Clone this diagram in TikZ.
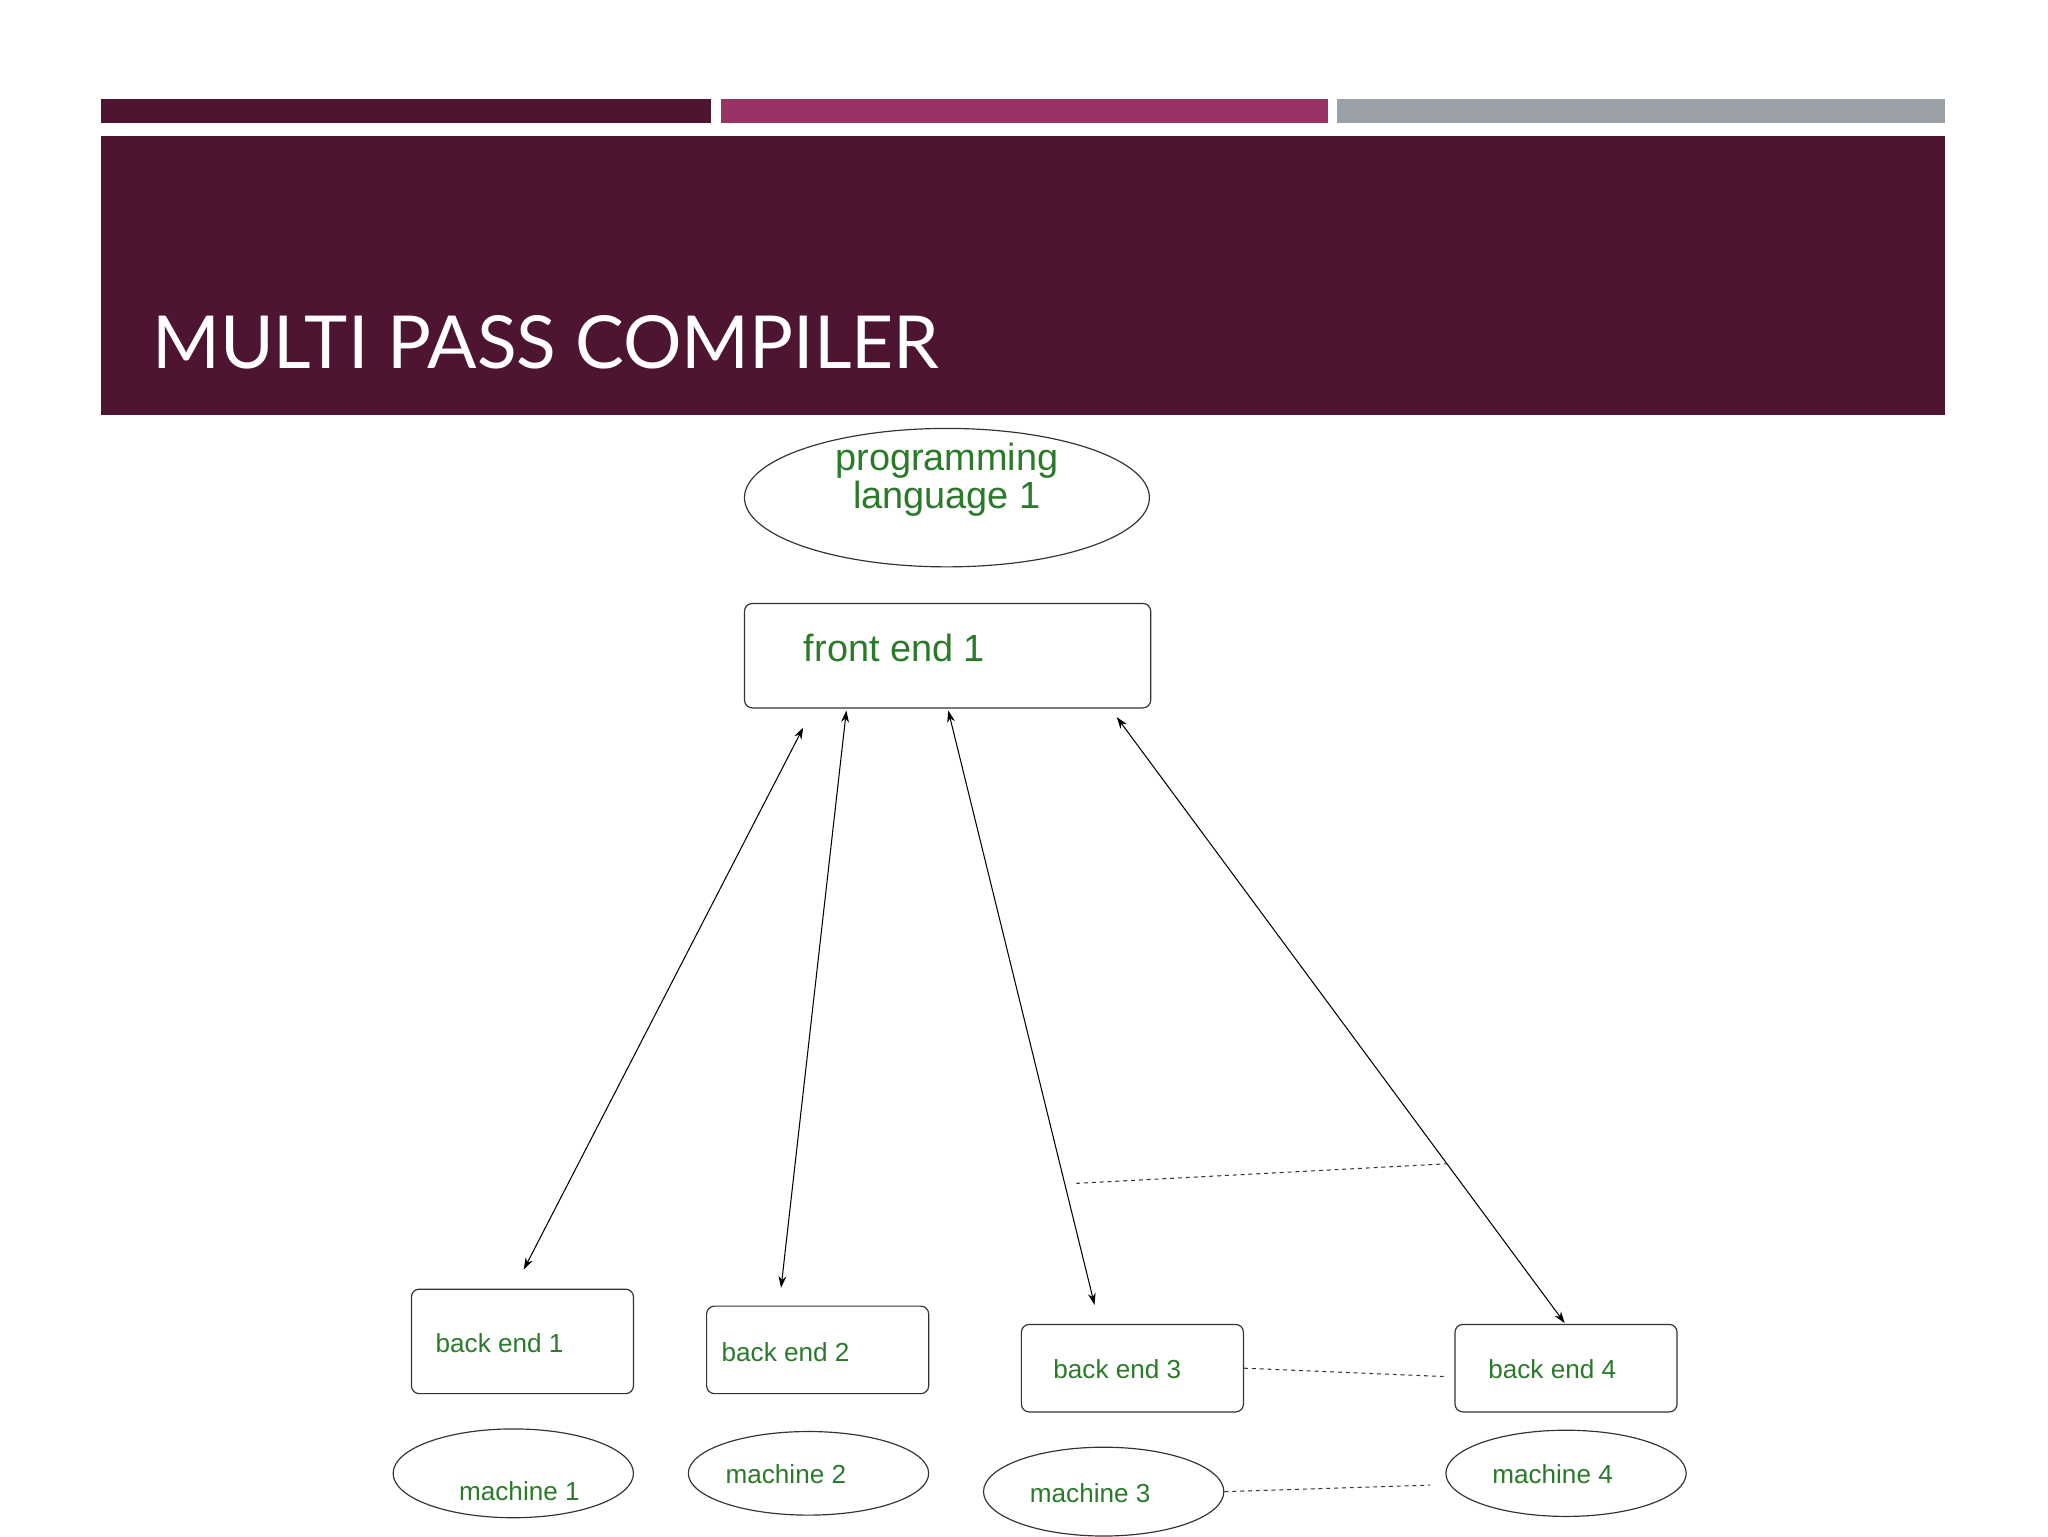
\documentclass[tikz,border=0pt]{standalone}
\usepackage{fontspec}
\setmainfont{Liberation Sans}
\newfontfamily\titlefont{Lato}
\usetikzlibrary{shapes.geometric,arrows.meta}
\definecolor{plum}{HTML}{4E1532}
\definecolor{magen}{HTML}{993366}
\definecolor{greybar}{HTML}{9AA0A6}
\definecolor{txtgreen}{HTML}{2A7A2A}
\tikzset{
 box/.style={draw=black!80,rounded corners=6pt,line width=0.9pt},
 oval/.style={draw=black!80,ellipse,line width=0.9pt},
 lbl/.style={text=txtgreen,font=\fontsize{20}{24}\selectfont,anchor=west},
 bigl/.style={text=txtgreen,font=\fontsize{29}{33}\selectfont,align=center},
 arr/.style={{Stealth[length=9pt,width=6pt]}-{Stealth[length=9pt,width=6pt]},line width=0.8pt},
 dsh/.style={dashed,line width=0.8pt,black!80}
}
\begin{document}
\begin{tikzpicture}[x=1pt,y=-1pt]
\useasboundingbox (0,0) rectangle (1568,1176);
\fill[white] (0,0) rectangle (1568,1176);
\fill[plum] (77,76) rectangle (544,94);
\fill[magen] (552,76) rectangle (1017,94);
\fill[greybar] (1024,76) rectangle (1489,94);
\fill[plum] (77,104) rectangle (1489,318);
\node[anchor=base west,text=white,font=\titlefont\fontsize{56}{60}\selectfont] (title) at (113,282) {MULTI PASS COMPILER};
% nodes
\node[oval,minimum width=310,minimum height=106] (pl) at (725,381) {};
\node[bigl] (plt) at (725,367) {programming\\[-4pt]language 1};
\node[box,minimum width=311,minimum height=80] (fe) at (725.5,502) {};
\node[lbl,font=\fontsize{29}{33}\selectfont] (fet) at (612,496) {front end 1};
\node[box,minimum width=170,minimum height=80] (b1) at (400,1027) {};
\node[lbl] (b1t) at (330,1028) {back end 1};
\node[box,minimum width=170,minimum height=67] (b2) at (626,1033.5) {};
\node[lbl] (b2t) at (549,1035) {back end 2};
\node[box,minimum width=170,minimum height=67] (b3) at (867,1047.5) {};
\node[lbl] (b3t) at (803,1048) {back end 3};
\node[box,minimum width=170,minimum height=67] (b4) at (1199,1047.5) {};
\node[lbl] (b4t) at (1136,1048) {back end 4};
\node[oval,minimum width=184,minimum height=68] (m1) at (393,1128) {};
\node[lbl] (m1t) at (348,1142) {machine 1};
\node[oval,minimum width=184,minimum height=64] (m2) at (619,1128) {};
\node[lbl] (m2t) at (552,1129) {machine 2};
\node[oval,minimum width=184,minimum height=68] (m3) at (845,1142) {};
\node[lbl] (m3t) at (785,1143) {machine 3};
\node[oval,minimum width=184,minimum height=66] (m4) at (1199,1128) {};
\node[lbl] (m4t) at (1139,1129) {machine 4};
% arrow endpoints
\coordinate (a1) at (615,557); \coordinate (z1) at (401,972);
\coordinate (a2) at (648,544); \coordinate (z2) at (598,986);
\coordinate (a3) at (726,544); \coordinate (z3) at (838,999);
\coordinate (a4) at (855,549); \coordinate (z4) at (1198,1013);
\draw[arr] (a1) -- (z1);
\draw[arr] (a2) -- (z2);
\draw[arr] (a3) -- (z3);
\draw[arr] (a4) -- (z4);
\coordinate (d1) at (824,906); \coordinate (d2) at (1108,891);
\draw[dsh] (d1) -- (d2);
\coordinate (d3) at (1108,1054);
\draw[dsh] (b3.east) -- (d3);
\coordinate (d4) at (1095,1137);
\draw[dsh] (m3.east) -- (d4);
\end{tikzpicture}
\end{document}
